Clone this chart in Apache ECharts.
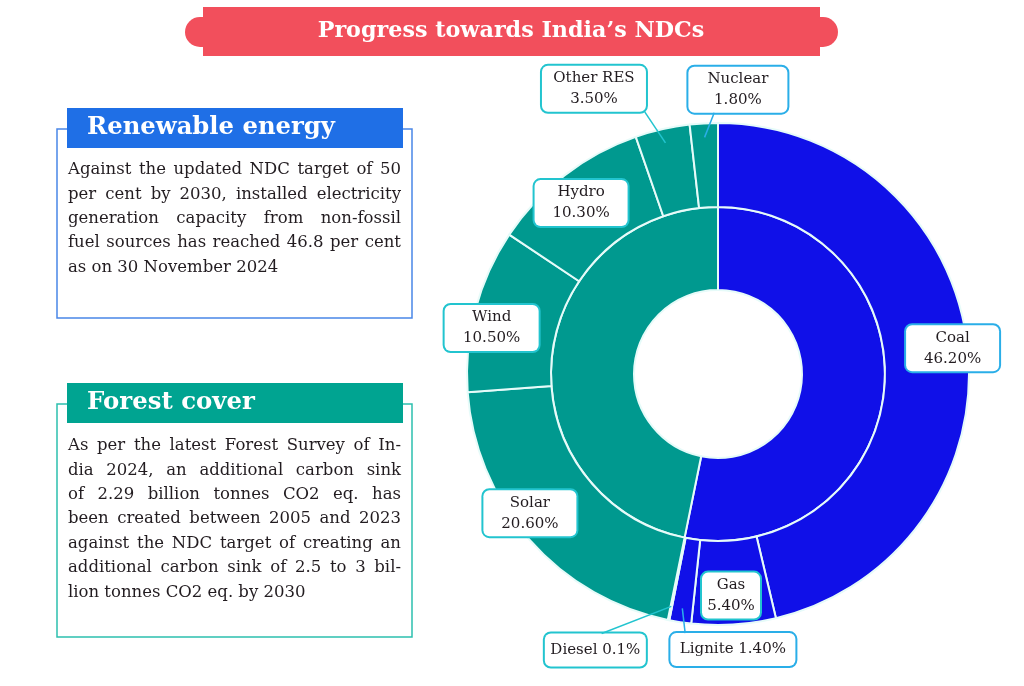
<!DOCTYPE html>
<html><head><meta charset="utf-8">
<script src="https://cdn.jsdelivr.net/npm/echarts@6/dist/echarts.min.js"></script>
<style>html,body{margin:0;padding:0;background:#fff}#c{width:1024px;height:686px}</style>
</head><body><div id="c"></div>
<script>
// ---------------- data ----------------
const titleText = 'Progress towards India\u2019s NDCs';
const sources = ['Coal', 'Gas', 'Lignite', 'Diesel', 'Solar', 'Wind', 'Hydro', 'Other RES', 'Nuclear'];
const shares = [46.2, 5.4, 1.4, 0.1, 20.6, 10.5, 10.3, 3.5, 1.8];
const shareLabels = ['46.20%', '5.40%', '1.40%', '0.1%', '20.60%', '10.50%', '10.30%', '3.50%', '1.80%'];
const isFossil = [true, true, true, true, false, false, false, false, false];
const groups = ['Fossil', 'Non-fossil'];
const reTitle = 'Renewable energy';
const reLines = [
  'Against the updated NDC target of 50',
  'per cent by 2030, installed electricity',
  'generation capacity from non-fossil',
  'fuel sources has reached 46.8 per cent',
  'as on 30 November 2024'
];
const fcTitle = 'Forest cover';
const fcLines = [
  'As per the latest Forest Survey of In-',
  'dia 2024, an additional carbon sink',
  'of 2.29 billion tonnes CO2 eq. has',
  'been created between 2005 and 2023',
  'against the NDC target of creating an',
  'additional carbon sink of 2.5 to 3 bil-',
  'lion tonnes CO2 eq. by 2030'
];

// ---------------- styles / layout ----------------
const FONT = '"DejaVu Serif", "Liberation Serif", serif';
const CX = 718, CY = 374, R_HOLE = 84, R_MID = 167, R_OUT = 251;
const BLUE = '#1010E8', TEAL = '#00998F', SEP = '#e6fbf9';
const TEXT = '#221c20';
const CYAN = '#22c4cf', SKY = '#2aaee8';
// per-label placement: radius from centre, angle offset (deg) from slice middle
const labelRadius = [236, 222, 276, 302, 234, 231, 219, 311, 285];
const labelAngleOff = [0.4, 0.25, -11.75, 12.6, 4.8, -3.3, -1.0, -10.7, 7.25];
const labelBoxW = [97, 62, 129, 105, 97, 98, 97, 108, 103];
const labelSep = ['\n', '\n', ' ', ' ', '\n', '\n', '\n', '\n', '\n'];
const labelBorder = [SKY, CYAN, SKY, CYAN, CYAN, CYAN, CYAN, CYAN, SKY];
const hasLine = [false, false, true, true, false, false, false, true, true];
const lineEndFrac = [0, 0, 0.13, 0.56, 0, 0, 0, 0.97, 0.27];
const LINE_H = 21;

const mctx = document.createElement('canvas').getContext('2d');
function tw(s, size, weight) {
  mctx.font = (weight || 'normal') + ' ' + size + 'px ' + FONT;
  return mctx.measureText(s).width;
}
function fitSize(s, target, weight, cap) {
  return Math.min(cap, target * 100 / tw(s, 100, weight));
}

// body font size: common so that widest full line fits
const BODY_W = 333, BODY_X = 68;
let bodySize = 16.5;
[reLines, fcLines].forEach(ls => ls.slice(0, -1).forEach(l => {
  bodySize = Math.min(bodySize, fitSize(l, BODY_W * 0.99, 'normal', 16.5));
}));

function justifyBlock(lines, y0, dy) {
  const els = [];
  lines.forEach((line, li) => {
    const y = y0 + li * dy;
    const words = line.split(' ');
    const widths = words.map(w => tw(w, bodySize));
    const sum = widths.reduce((a, b) => a + b, 0);
    const last = li === lines.length - 1;
    const gap = last ? tw(' ', bodySize) : (BODY_W - sum) / (words.length - 1);
    let x = BODY_X;
    words.forEach((w, wi) => {
      els.push({type: 'text', x: x, y: y, silent: true,
        style: {text: w, fill: TEXT, font: 'normal ' + bodySize + 'px ' + FONT, textVerticalAlign: 'middle', textAlign: 'left'}});
      x += widths[wi] + gap;
    });
  });
  return els;
}

function panel(title, color, outline, hy, oy, oh, lines, ly0) {
  const hs = fitSize(title, title === reTitle ? 248 : 168, 'bold', 26);
  return [
    {type: 'rect', shape: {x: 57, y: oy, width: 355, height: oh}, silent: true,
      style: {fill: '#fff', stroke: outline, lineWidth: 1.5}},
    {type: 'rect', shape: {x: 67, y: hy, width: 336, height: 40}, silent: true, style: {fill: color}},
    {type: 'text', x: 87, y: hy + 20, silent: true,
      style: {text: title, fill: '#fff', font: 'bold ' + hs + 'px ' + FONT, textVerticalAlign: 'middle'}},
    ...justifyBlock(lines, ly0, 24.4)
  ];
}

const total = shares.reduce((a, b) => a + b, 0);
const cum = [];
shares.reduce((a, v, i) => { cum[i] = a; return a + v; }, 0);
const midAngle = shares.map((v, i) => (cum[i] + v / 2) / total * 360);

const groupValues = [
  shares.filter((v, i) => isFossil[i]).reduce((a, b) => a + b, 0),
  shares.filter((v, i) => !isFossil[i]).reduce((a, b) => a + b, 0)
];

function polar(r, deg) {
  const a = deg * Math.PI / 180;
  return [CX + r * Math.sin(a), CY - r * Math.cos(a)];
}
function boxH(i) { return (labelSep[i] === '\n' ? 2 * LINE_H + 4 : LINE_H + 12) + 2; }
const labelCenters = sources.map((s, i) => polar(labelRadius[i], midAngle[i] + labelAngleOff[i]));

// leader lines from inside the slice to the label box edge
const leaderLines = [];
sources.forEach((s, i) => {
  if (!hasLine[i]) return;
  const [lx, ly] = labelCenters[i];
  const w = labelBoxW[i], h = boxH(i);
  const start = polar(237, midAngle[i]);
  const end = [lx - w / 2 + w * lineEndFrac[i], ly < CY ? ly + h / 2 - 1 : ly - h / 2 + 1];
  leaderLines.push({type: 'line', z: 100, zlevel: 0, silent: true,
    shape: {x1: start[0], y1: start[1], x2: end[0], y2: end[1]},
    style: {stroke: labelBorder[i], lineWidth: 1.5}});
});

const titleSize = fitSize(titleText, 387, 'bold', 23);

const option = {
  backgroundColor: '#fff',
  animation: false,
  graphic: [
    {type: 'rect', shape: {x: 203, y: 7, width: 617, height: 49}, silent: true, style: {fill: '#F24F5C'}},
    {type: 'rect', shape: {x: 185, y: 17, width: 653, height: 30, r: 15}, silent: true, style: {fill: '#F24F5C'}},
    {type: 'text', x: 511, y: 31.5, silent: true,
      style: {text: titleText, fill: '#fff', font: 'bold ' + titleSize + 'px ' + FONT, textAlign: 'center', textVerticalAlign: 'middle'}},
    ...panel(reTitle, '#1F6FE6', '#4a86e8', 108, 129, 189, reLines, 170),
    ...panel(fcTitle, '#00A491', '#2cc0ae', 383, 404, 233, fcLines, 446),
    ...leaderLines
  ],
  series: [
    {
      type: 'pie', silent: true, center: [CX, CY], radius: [R_HOLE, R_MID],
      startAngle: 90, clockwise: true, label: {show: false}, labelLine: {show: false},
      emphasis: {disabled: true},
      itemStyle: {borderColor: SEP, borderWidth: 2},
      data: groups.map((g, i) => ({name: g, value: groupValues[i], itemStyle: {color: i === 0 ? BLUE : TEAL}}))
    },
    {
      type: 'pie', silent: true, center: [CX, CY], radius: [R_MID, R_OUT],
      startAngle: 90, clockwise: true, avoidLabelOverlap: false, minShowLabelAngle: 0,
      emphasis: {disabled: true},
      itemStyle: {borderColor: SEP, borderWidth: 2},
      labelLine: {show: false},
      data: sources.map((s, i) => {
        const twoLine = labelSep[i] === '\n';
        return {
          name: s, value: shares[i],
          itemStyle: {color: isFossil[i] ? BLUE : TEAL},
          label: {
            show: true, position: 'inside',
            formatter: s + labelSep[i] + shareLabels[i],
            fontFamily: FONT, fontSize: 15, lineHeight: LINE_H, color: TEXT, align: 'center',
            backgroundColor: '#fff', borderColor: labelBorder[i], borderWidth: 2, borderRadius: 6,
            padding: twoLine ? [2, 2] : [6, 2], width: labelBoxW[i] - 8, overflow: 'none'
          }
        };
      }),
      labelLayout: function (p) {
        const [lx, ly] = labelCenters[p.dataIndex];
        return {x: lx, y: ly, align: 'center', verticalAlign: 'middle'};
      }
    }
  ]
};

const chart = echarts.init(document.getElementById('c'), null, {renderer: 'canvas'});
chart.setOption(option);
</script>
</body></html>
